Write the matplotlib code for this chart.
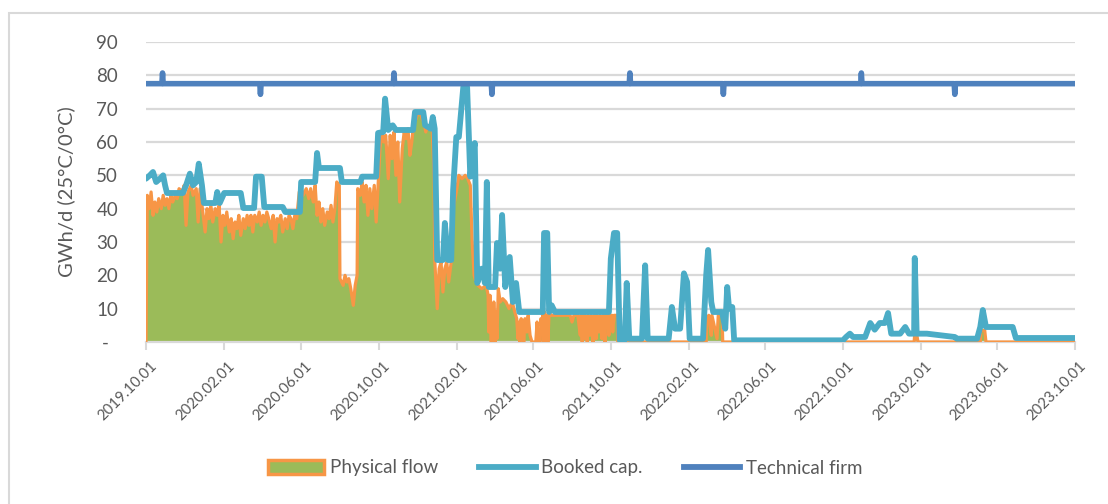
import numpy as np
import pandas as pd
import matplotlib
matplotlib.use("Agg")
import matplotlib.pyplot as plt
from matplotlib.patches import Patch, Rectangle
from matplotlib.lines import Line2D
import matplotlib.transforms as mtransforms

plt.rcParams['font.family'] = ['Lato', 'DejaVu Sans']

START = pd.Timestamp('2019-10-01')
END = pd.Timestamp('2023-10-01')

# Booked capacity: breakpoints (days since 2019-10-01, GWh/d)
booked_days = [0, 6, 11, 16, 22, 27, 30, 33, 58, 63, 69, 74, 79, 83, 88, 91, 109, 112, 116, 123,
               149, 153, 170, 173, 182, 186, 215, 219, 242, 244, 266, 269, 272, 305, 308, 337, 340,
               362, 365, 373, 376, 381, 388, 393, 420, 423, 436, 439, 448, 451, 454, 458, 467, 470,
               475, 480, 483, 488, 492, 499, 505, 510, 513, 517, 521, 528, 533, 536, 539, 549, 552,
               557, 560, 565, 572, 577, 582, 587, 624, 626, 631, 634, 638, 643, 728, 731, 736, 741,
               745, 753, 756, 760, 780, 785, 789, 822, 827, 832, 840, 846, 851, 855, 876, 881, 884,
               889, 892, 906, 911, 914, 917, 922, 925, 1096, 1101, 1107, 1112, 1131, 1139, 1146,
               1154, 1162, 1167, 1172, 1186, 1194, 1200, 1208, 1209, 1212, 1228, 1272, 1275, 1307,
               1312, 1316, 1321, 1363, 1368, 1461]
booked_vals = [49, 50, 51, 48, 49, 50, 47, 44.7, 44.7, 47, 50.5, 47, 48, 53.5, 47, 41.7, 41.7, 45, 41.7, 44.7,
               44.7, 40.2, 40.2, 49.6, 49.6, 40.5, 40.5, 39, 39, 48, 48, 56.7, 52.2, 52.2, 48, 48, 49.6,
               49.6, 62.7, 63, 73, 63.6, 65, 63.6, 63.6, 69, 69, 65, 64, 67.5, 64, 24.6, 24.6, 35.7,
               24.6, 24.6, 45.6, 61.5, 61.5, 76.5, 76.5, 49.6, 55, 59.7, 17.7, 22, 17.7, 48, 16.5, 16.5, 29.7,
               22, 38.1, 16.5, 25.5, 12, 17.7, 9, 9, 32.7, 32.7, 9, 11, 9, 9, 25, 32.7, 32.7,
               0.6, 0.6, 17.7, 1, 1, 23, 1, 1, 10.5, 4, 4, 20.6, 18, 1, 1, 20, 27.6,
               12, 9, 9, 4, 16.5, 10, 10.5, 0.5, 0.5, 1.5, 2.5, 1.5, 1.5, 5.7, 3.7,
               5.7, 5.7, 8.7, 2.5, 2.5, 4.5, 2.5, 2.5, 25.2, 2.5, 2.5, 1.5, 1, 1,
               4.5, 9.6, 4.5, 4.5, 1.2, 1.2]

# Physical flow: breakpoints (days since 2019-10-01, GWh/d)
flow_days = [0, 2, 5, 8, 11, 14, 17, 20, 24, 27, 30, 33, 36, 39, 42, 46, 49, 52, 57, 60, 63, 66, 71, 74,
             79, 82, 85, 90, 93, 96, 99, 102, 105, 109, 112, 115, 118, 121, 124, 127, 131, 134, 137, 140,
             143, 146, 149, 153, 156, 159, 162, 165, 168, 171, 175, 178, 181, 184, 187, 190, 193, 197,
             200, 203, 206, 209, 212, 215, 219, 222, 225, 228, 231, 234, 237, 241, 244, 247, 252, 256,
             259, 263, 266, 269, 272, 275, 278, 281, 285, 288, 291, 294, 297, 300, 304, 305, 310, 313,
             316, 319, 322, 326, 329, 332, 333, 337, 340, 343, 346, 349, 352, 355, 359, 362, 365, 368,
             371, 374, 377, 381, 384, 387, 390, 393, 396, 399, 403, 406, 409, 412, 415, 418, 421, 425,
             428, 431, 434, 437, 440, 443, 447, 450, 453, 454, 458, 461, 464, 467, 470, 473, 476, 480,
             483, 488, 492, 497, 502, 506, 510, 513, 516, 519, 522, 528, 535, 538, 539, 541, 543, 544,
             546, 547, 549, 550, 552, 554, 557, 561, 566, 571, 576, 580, 583, 585, 587, 588, 590, 591,
             593, 594, 596, 599, 601, 604, 607, 613, 615, 616, 620, 621, 623, 624, 626, 627, 629, 631,
             632, 634, 637, 640, 667, 670, 673, 679, 683, 684, 686, 687, 689, 690, 694, 695, 698, 700,
             703, 705, 708, 709, 712, 714, 717, 719, 722, 723, 727, 728, 730, 733, 734, 736, 741, 742,
             881, 882, 885, 889, 890, 898, 900, 906, 907, 1208, 1209, 1212, 1214, 1312, 1313, 1319,
             1321, 1461]
flow_vals = [0, 44, 40, 45, 38, 42, 39, 43, 40, 44, 41, 43, 40, 44, 42, 44, 43, 46, 45, 47, 35, 45, 47, 44,
             46, 36, 46, 38, 33, 40, 37, 41, 36, 40, 38, 41, 30, 38, 35, 39, 33, 37, 31, 36,
             34, 38, 32, 37, 34, 38, 35, 38, 33, 38, 36, 39, 35, 38, 36, 39, 37, 34,
             38, 30, 37, 36, 38, 33, 37, 34, 38, 37, 34, 38, 37, 45, 46, 44, 46, 43,
             46, 42, 47, 38, 42, 36, 40, 35, 39, 37, 41, 36, 40, 48, 47, 19, 17, 20,
             18, 19, 16, 11, 17, 20, 46, 44, 48, 42, 47, 38, 46, 40, 47, 36, 47, 58,
             63, 60, 62, 49, 62, 55, 63, 50, 60, 42, 58, 63, 61, 64, 56, 60, 66, 67,
             69, 69, 67, 66, 63, 65, 64, 64, 50, 25, 10, 22, 24, 15, 22, 24, 18, 24,
             40, 45, 50, 49, 50, 49, 47, 30, 20, 18, 17, 16, 17, 14, 3, 14, 0, 10,
             2, 12, 0, 9, 1, 16, 12, 13, 12, 10, 12, 9, 7, 1, 6, 0, 7, 2,
             6, 0, 7, 3, 8, 2, 0, 0, 6, 0, 0, 7, 3, 8, 0, 9, 3, 8,
             0, 9, 8, 8, 8, 6, 8, 8, 2, 8, 0, 8, 1, 8, 0, 8, 2, 8,
             0, 8, 1, 8, 3, 8, 1, 8, 0, 8, 8, 2, 8, 8, 3, 8, 8, 0,
             0, 7, 8, 2, 8, 1, 8, 8, 0, 0, 2.5, 2.5, 0, 0, 3.5, 3.5,
             0, 0]

# Technical firm capacity with daylight-saving day adjustments
tech_base = 77.5
tech_dst_dates = ['2019-10-27', '2020-03-29', '2020-10-25', '2021-03-28',
                  '2021-10-31', '2022-03-27', '2022-10-30', '2023-03-26']
tech_dst_vals = [80.7, 74.3, 80.7, 74.3, 80.7, 74.3, 80.7, 74.3]

y_ticks = [0, 10, 20, 30, 40, 50, 60, 70, 80, 90]
y_label = 'GWh/d (25°C/0°C)'
legend_labels = ['Physical flow', 'Booked cap.', 'Technical firm']

C_GREEN = '#9BBB59'
C_ORANGE = '#F79646'
C_BOOKED = '#4BACC6'
C_TECH = '#4F81BD'
C_GRID = '#D9D9D9'
C_TEXT = '#595959'

booked_dates = START + pd.to_timedelta(booked_days, unit='D')
flow_dates = START + pd.to_timedelta(flow_days, unit='D')
tech_index = pd.date_range(START, END, freq='D')
tech = pd.Series(tech_base, index=tech_index)
tech.loc[pd.to_datetime(tech_dst_dates)] = tech_dst_vals

fig = plt.figure(figsize=(11.08, 5.04), dpi=100)
ax = fig.add_axes([146/1108, 1-342/504, (1075-146)/1108, 300/504])

ax.fill_between(flow_dates, flow_vals, 0, color=C_GREEN, lw=0, zorder=2)
ax.plot(flow_dates, flow_vals, color=C_ORANGE, lw=2.3, zorder=3, solid_joinstyle='round')
ax.plot(booked_dates, booked_vals, color=C_BOOKED, lw=4.2, zorder=4,
        solid_joinstyle='round', solid_capstyle='round')
ax.plot(tech.index, tech.values, color=C_TECH, lw=4.0, zorder=5,
        solid_joinstyle='round', solid_capstyle='round')

ax.set_xlim(START, END)
ax.set_ylim(0, 90)
ax.set_yticks(y_ticks)
ax.set_yticklabels(['-  '] + [str(v) for v in y_ticks[1:]])
ax.yaxis.grid(True, color=C_GRID, lw=1.6, zorder=0)
ax.set_axisbelow(True)
ax.tick_params(axis='y', length=0, pad=20, labelsize=13.5, labelcolor=C_TEXT)

xt = pd.date_range(START, END, freq='4MS')
ax.set_xticks(xt)
ax.set_xticklabels([d.strftime('%Y.%m.%d') for d in xt], rotation=45, ha='right',
                   rotation_mode='anchor')
ax.tick_params(axis='x', length=6, width=1.5, color=C_GRID, labelsize=10.8,
               labelcolor=C_TEXT, pad=6)
offset = mtransforms.ScaledTranslation(4/100, 0, fig.dpi_scale_trans)
for lab in ax.get_xticklabels():
    lab.set_transform(lab.get_transform() + offset)
for s in ['top', 'right', 'left']:
    ax.spines[s].set_visible(False)
ax.spines['bottom'].set_color(C_GRID)
ax.spines['bottom'].set_linewidth(1.6)

ax.set_ylabel(y_label, fontsize=14.5, color=C_TEXT, labelpad=15)

handles = [Patch(facecolor=C_GREEN, edgecolor=C_ORANGE, lw=2.5),
           Line2D([], [], color=C_BOOKED, lw=4.2),
           Line2D([], [], color=C_TECH, lw=4.2)]
fig.legend(handles, legend_labels, loc='center', bbox_to_anchor=(565/1108, 1-468/504),
           ncol=3, frameon=False, fontsize=13.5, labelcolor=C_TEXT, handlelength=3.0,
           handletextpad=0.3, columnspacing=2.2)

fig.patches.append(Rectangle((9/1108, -0.2), 1.5, 1.2 - 13/504, transform=fig.transFigure,
                             fill=False, edgecolor=C_GRID, lw=1.5))

fig.savefig('out.png', dpi=100)
